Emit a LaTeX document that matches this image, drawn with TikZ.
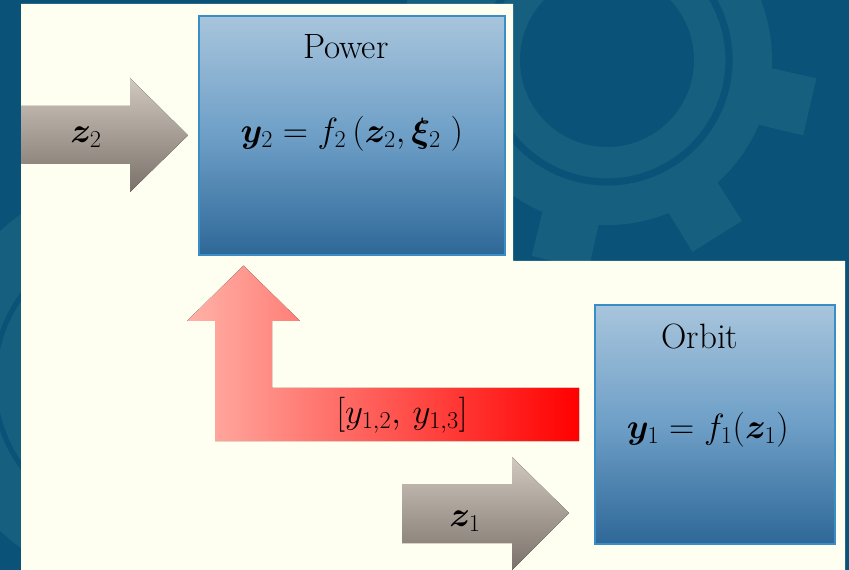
\documentclass[tikz,border=0pt]{standalone}
\usepackage{amsmath}
\usepackage{bm}
\usepackage{xcolor}
\usepackage{tikz}
\usetikzlibrary{calc}

\definecolor{bgblue}{HTML}{0B5279}
\definecolor{gearblue}{HTML}{175F7E}
\definecolor{cream}{HTML}{FEFFF0}
\definecolor{boxtop}{HTML}{A8C5DC}
\definecolor{boxmid}{HTML}{6E9FC7}
\definecolor{boxbot}{HTML}{2E6898}
\definecolor{boxedge}{HTML}{3B8DC5}
\definecolor{greytop}{HTML}{D1C9C0}
\definecolor{greybot}{HTML}{7A726A}
\definecolor{pinkred}{HTML}{FFB2A8}

\begin{document}
\begin{tikzpicture}[
    x=0.025cm, y=-0.025cm,
    block/.style={rectangle, draw=boxedge, line width=0.04cm, top color=boxtop, bottom color=boxbot, middle color=boxmid, anchor=north west, inner sep=0pt},
    title/.style={font=\fontsize{25}{28}\selectfont, inner sep=0pt},
    eqn/.style={font=\fontsize{26}{30}\selectfont, inner sep=0pt},
    grayarrow/.style={top color=greytop, bottom color=greybot},
    feedarrow/.style={left color=pinkred, right color=red}
]
    \useasboundingbox (0,0) rectangle (849,570);

    % Background with gears
    \fill[bgblue] (0,0) rectangle (849,570);
    \begin{scope}[shift={(607,60)}]
        \fill[gearblue] (0,0) circle (165);
        \foreach \a in {13,58,...,373}
            \fill[gearblue] (\a-11:150) -- (\a-8:210) -- (\a+8:210) -- (\a+11:150) -- cycle;
        \draw[bgblue, line width=0.18cm] (0,0) circle (122);
        \fill[bgblue] (0,0) circle (87);
    \end{scope}
    \begin{scope}[shift={(140,381)}]
        \fill[gearblue] (0,0) circle (205);
        \draw[bgblue, line width=0.13cm] (0,0) circle (146);
    \end{scope}

    % Slide area
    \fill[cream] (21,4) -- (513,4) -- (513,261) -- (845,261) -- (845,570) -- (21,570) -- cycle;

    % Discipline boxes
    \node[block, minimum width=7.65cm, minimum height=5.975cm] (PWR) at (198,15) {};
    \node[block, minimum width=6cm, minimum height=5.975cm] (ORB) at (594,304) {};

    \node[title] (PWRT) at ($(PWR.north)+(-6,32)$) {Power};
    \node[eqn] (PWREQ) at ($(PWR.north)+(0,119)$) {$\bm{y}_2 = f_2\,(\bm{z}_2,\bm{\xi}_2\;)$};
    \node[title] (ORBT) at ($(ORB.north)+(-15,32)$) {Orbit};
    \node[eqn] (ORBEQ) at ($(ORB.north)+(-7,126)$) {$\bm{y}_1 = f_1(\bm{z}_1)$};

    % Inputs
    \coordinate (Z2TIP) at ($(PWR.west)+(-10,0)$);
    \fill[grayarrow] (21,106) -- (130,106) -- (130,78) -- (Z2TIP) -- (130,192) -- (130,164) -- (21,164) -- cycle;
    \node[eqn] (Z2) at (86,137) {$\bm{z}_2$};

    \coordinate (Z1TIP) at (569,513);
    \fill[grayarrow] (402,484) -- (512,484) -- (512,457) -- (Z1TIP) -- (512,570) -- (512,543) -- (402,543) -- cycle;
    \node[eqn] (Z1) at (465,521) {$\bm{z}_1$};

    % Coupling Orbit -> Power
    \coordinate (FBTIP) at ($(PWR.south west)+(45.5,10)$);
    \fill[feedarrow] (215,441) -- (579,441) -- (579,388) -- (272,388) -- (272,321) -- (300,321) -- (FBTIP) -- (187,321) -- (215,321) -- cycle;
    \node[eqn] (Y1) at (402,415) {$[y_{1,2},\,y_{1,3}]$};
\end{tikzpicture}
\end{document}
